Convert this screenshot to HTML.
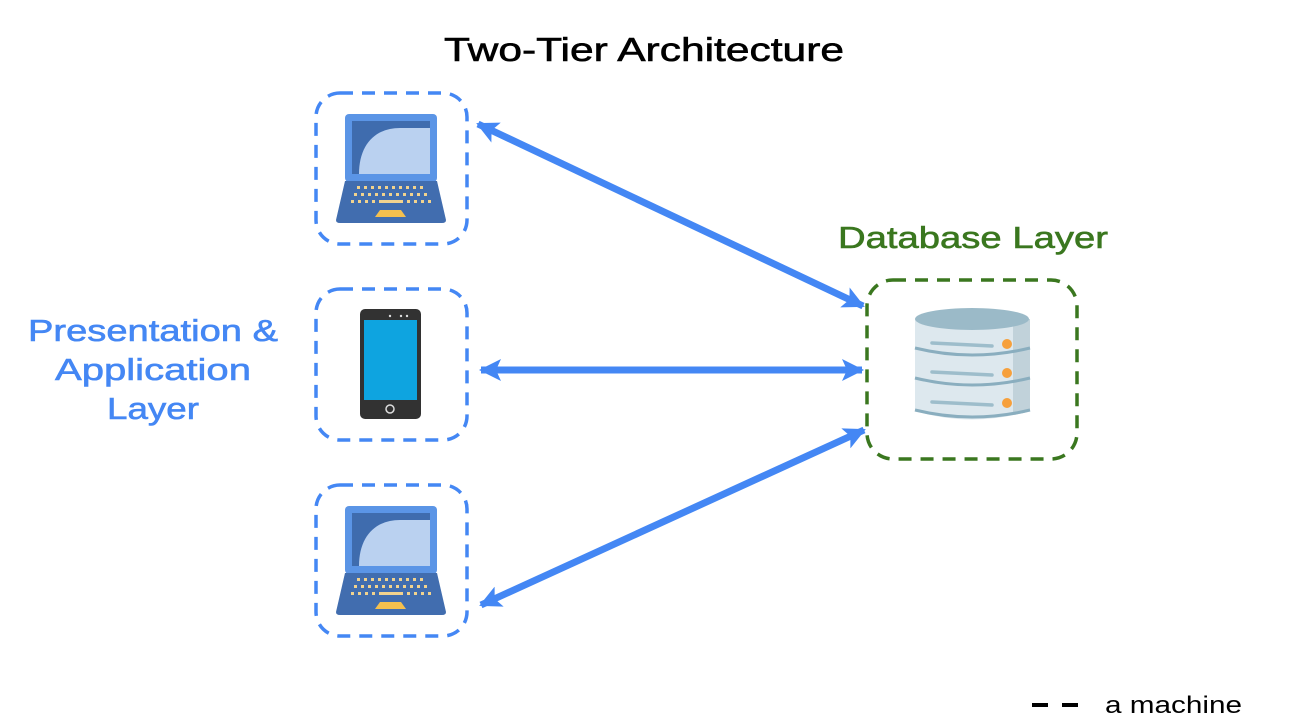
<!DOCTYPE html>
<html><head><meta charset="utf-8"><style>
html,body{margin:0;padding:0;background:#fff;}
svg{display:block;}
text{font-family:"Liberation Sans",sans-serif;}
</style></head><body>
<svg width="1296" height="728" viewBox="0 0 1296 728" xmlns="http://www.w3.org/2000/svg">
<defs>
<marker id="ah" markerUnits="userSpaceOnUse" markerWidth="26" markerHeight="26" refX="20" refY="11" orient="auto-start-reverse">
<path d="M0,0 L22,11 L0,22 L5,11 Z" fill="#4487f4"/>
</marker>
<g id="laptop">
<rect x="345" y="114" width="92" height="68" rx="4" fill="#5b95e6"/>
<rect x="352" y="121" width="78" height="53" fill="#3f6cae"/>
<path d="M359,174 C359,145 375,128 400,128 L430,128 L430,174 Z" fill="#bad1f0"/>
<path d="M345,181 L437,181 L446,220 Q446,223 442,223 L340,223 Q336,223 336,220 Z" fill="#416daf"/>
<g fill="#f2d38e">
<rect x="357" y="186" width="3" height="3"/><rect x="364" y="186" width="3" height="3"/><rect x="371" y="186" width="3" height="3"/><rect x="378" y="186" width="3" height="3"/><rect x="385" y="186" width="3" height="3"/><rect x="392" y="186" width="3" height="3"/><rect x="399" y="186" width="3" height="3"/><rect x="406" y="186" width="3" height="3"/><rect x="413" y="186" width="3" height="3"/><rect x="420" y="186" width="3" height="3"/>
<rect x="354" y="193" width="3" height="3"/><rect x="361" y="193" width="3" height="3"/><rect x="368" y="193" width="3" height="3"/><rect x="375" y="193" width="3" height="3"/><rect x="382" y="193" width="3" height="3"/><rect x="389" y="193" width="3" height="3"/><rect x="396" y="193" width="3" height="3"/><rect x="403" y="193" width="3" height="3"/><rect x="410" y="193" width="3" height="3"/><rect x="417" y="193" width="3" height="3"/><rect x="424" y="193" width="3" height="3"/>
<rect x="351" y="200" width="3" height="3"/><rect x="358" y="200" width="3" height="3"/><rect x="365" y="200" width="3" height="3"/><rect x="372" y="200" width="3" height="3"/><rect x="379" y="200" width="24" height="3"/><rect x="407" y="200" width="3" height="3"/><rect x="414" y="200" width="3" height="3"/><rect x="421" y="200" width="3" height="3"/><rect x="428" y="200" width="3" height="3"/>
</g>
<path d="M380,210 L401,210 L406,217 L375,217 Z" fill="#f4c04f"/>
</g>
</defs>

<text x="644" y="61" font-size="33" text-anchor="middle" fill="#000" stroke="#000" stroke-width="0.6" textLength="400" lengthAdjust="spacingAndGlyphs">Two-Tier Architecture</text>

<g fill="none" stroke="#4487f4" stroke-width="3.5" stroke-dasharray="13,9">
<rect x="316" y="93" width="151" height="151" rx="24"/>
<rect x="316" y="289" width="151" height="151" rx="24"/>
<rect x="316" y="485" width="151" height="151" rx="24"/>
</g>
<rect x="867" y="280" width="210" height="179" rx="26" fill="none" stroke="#3a771f" stroke-width="3.5" stroke-dasharray="13,9"/>

<use href="#laptop"/>
<use href="#laptop" transform="translate(0,392)"/>

<rect x="360" y="309" width="61" height="110" rx="5" fill="#323232"/>
<rect x="364" y="320" width="53" height="80" fill="#0ea4e0"/>
<circle cx="390" cy="409" r="4" fill="none" stroke="#ddd" stroke-width="1.5"/>
<circle cx="390" cy="316" r="1.2" fill="#ddd"/><circle cx="401" cy="316" r="1.2" fill="#ddd"/><circle cx="407" cy="316" r="1.2" fill="#ddd"/>

<!-- database -->
<path d="M915,319 L1030,319 L1030,411 Q972,428 915,411 Z" fill="#dde8ee"/>
<path d="M1013,319 L1030,319 L1030,411 Q1022,414 1013,415 Z" fill="#c1d2da"/>
<ellipse cx="972" cy="319" rx="57" ry="11" fill="#9bbac8"/>
<path d="M915,348 Q972,362 1030,348" fill="none" stroke="#8aaebf" stroke-width="3"/>
<path d="M915,378 Q972,392 1030,378" fill="none" stroke="#8aaebf" stroke-width="3"/>
<path d="M915,410 Q972,424 1030,410" fill="none" stroke="#8aaebf" stroke-width="3"/>
<g stroke="#9dbdcb" stroke-width="3.5" stroke-linecap="round">
<line x1="932" y1="343" x2="992" y2="346"/>
<line x1="932" y1="372" x2="992" y2="375"/>
<line x1="932" y1="402" x2="992" y2="405"/>
</g>
<g fill="#f6a03c"><circle cx="1007" cy="344" r="5"/><circle cx="1007" cy="373" r="5"/><circle cx="1007" cy="403" r="5"/></g>

<!-- arrows -->
<g stroke="#4487f4" stroke-width="7" marker-start="url(#ah)" marker-end="url(#ah)">
<line x1="478" y1="124" x2="863" y2="306"/>
<line x1="481" y1="370" x2="862" y2="370"/>
<line x1="481" y1="605" x2="864" y2="430"/>
</g>

<g fill="#4487f4" stroke="#4487f4" stroke-width="0.6" font-size="31" text-anchor="middle">
<text x="153" y="341" textLength="250" lengthAdjust="spacingAndGlyphs">Presentation &amp;</text>
<text x="153" y="380" textLength="196" lengthAdjust="spacingAndGlyphs">Application</text>
<text x="153" y="419" textLength="92" lengthAdjust="spacingAndGlyphs">Layer</text>
</g>
<text x="973" y="248" font-size="31" fill="#3a771f" stroke="#3a771f" stroke-width="0.6" text-anchor="middle" textLength="270" lengthAdjust="spacingAndGlyphs">Database Layer</text>

<rect x="1032" y="703" width="16" height="4" fill="#000"/>
<rect x="1062" y="703" width="16" height="4" fill="#000"/>
<text x="1105" y="713" font-size="24" fill="#000" textLength="137" lengthAdjust="spacingAndGlyphs">a machine</text>
</svg>
</body></html>
